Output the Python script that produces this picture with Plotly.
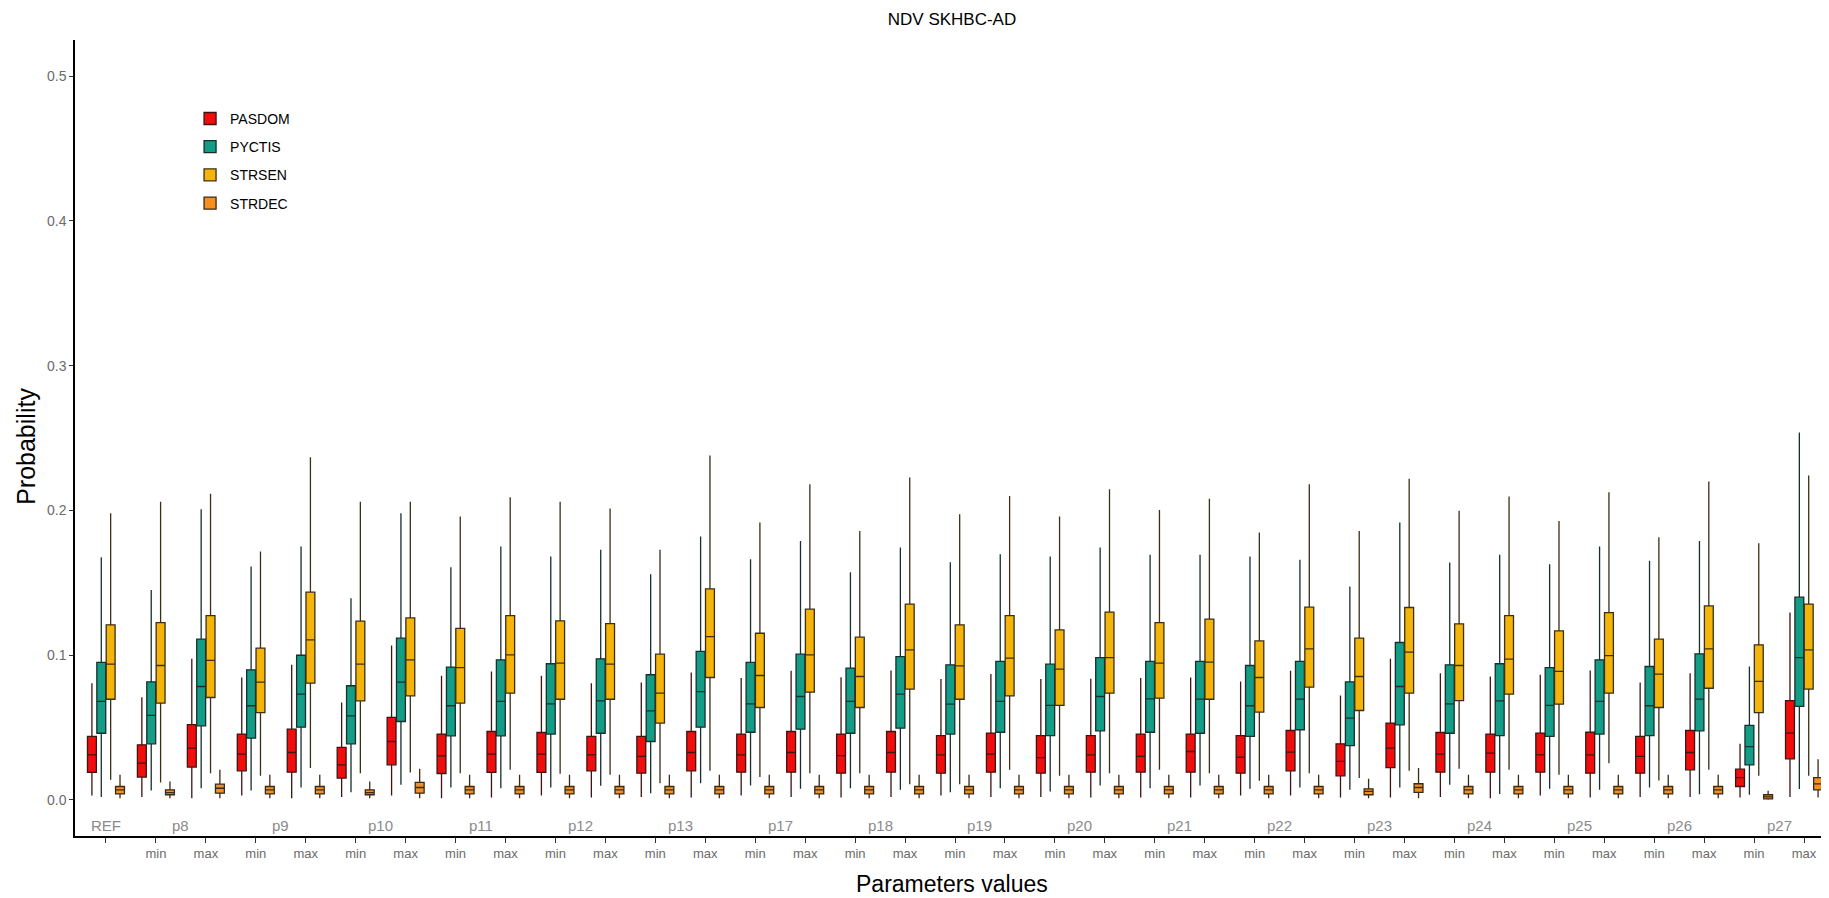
import plotly.graph_objects as go

# x categories: REF + min/max for each parameter
params = ["p8", "p9", "p10", "p11", "p12", "p13", "p17", "p18", "p19", "p20",
          "p21", "p22", "p23", "p24", "p25", "p26", "p27"]
categories = ["REF"] + [f"{p} {lvl}" for p in params for lvl in ("min", "max")]
tick_labels = [""] + ["min", "max"] * len(params)

# PASDOM
pasdom_low = [.003, .002, .001, .003, .001, .002, .003, .001, .0016, .003, .0016, .002, .0016, .003, .002, .0016, .002, .003,
              .002, .002, .0016, .0016, .0016, .003, .003, .0016, .0016, .002, .001, .003, .0016, .002, .002, .0016, .002]
pasdom_q1 = [.019, .0157, .0226, .020, .0191, .015, .0242, .0182, .0189, .0189, .020, .0184, .020, .0191, .0191, .0184, .0191, .0184,
             .0191, .0184, .0191, .0191, .0191, .0184, .020, .0166, .0223, .0191, .0191, .0191, .0184, .0184, .0207, .0092, .0283]
pasdom_med = [.0311, .0253, .0357, .0316, .0327, .0242, .0403, .0304, .0316, .0316, .0311, .030, .0327, .0311, .0327, .0306, .0327, .0311,
              .0316, .0292, .0311, .030, .0334, .0295, .0329, .0265, .0357, .0316, .0322, .0311, .0311, .030, .0327, .0154, .0461]
pasdom_q3 = [.0438, .038, .052, .0454, .0488, .0362, .0569, .0454, .0472, .0465, .0438, .0438, .0472, .0454, .0472, .0454, .0472, .0444,
             .0461, .0444, .0444, .0454, .0454, .0444, .0479, .0387, .053, .0465, .0454, .0461, .0467, .0438, .0479, .0212, .0686]
pasdom_high = [.0806, .0709, .0974, .0845, .0933, .0672, .1066, .0857, .0887, .0857, .0806, .0811, .088, .0841, .0891, .0847, .0894, .0834,
               .087, .0834, .0836, .0841, .0845, .0818, .0891, .0721, .0974, .0875, .0852, .0864, .0894, .0811, .0875, .0387, .1294]

# PYCTIS
pyctis_low = [.002, .0064, .008, .0064, .0085, .0053, .0104, .0085, .008, .0085, .0097, .0046, .0115, .0099, .0076, .008, .0069, .0053,
              .008, .0058, .0099, .008, .0099, .0076, .0085, .0069, .0085, .0104, .0041, .0076, .0069, .0085, .0039, .0035, .0074]
pyctis_q1 = [.046, .0387, .0511, .0426, .0502, .0387, .0541, .0442, .0442, .0454, .046, .0403, .0502, .0467, .0488, .046, .0495, .0454,
             .0467, .0444, .0477, .0467, .046, .0438, .0484, .0375, .0518, .046, .0444, .0438, .0454, .0444, .0477, .0242, .0645]
pyctis_med = [.068, .0583, .0783, .065, .073, .058, .0813, .065, .068, .0663, .0684, .0615, .0748, .0663, .0714, .068, .073, .0661,
              .068, .0652, .0714, .0698, .0696, .065, .0696, .0564, .0783, .0663, .0684, .0652, .068, .065, .0696, .0368, .0983]
pyctis_q3 = [.0949, .0815, .111, .0898, .0999, .0788, .1117, .0917, .0967, .094, .0974, .0864, .1025, .0949, .1006, .091, .099, .0933,
             .0956, .0937, .0983, .0956, .0956, .0928, .0956, .0815, .1087, .0933, .094, .0914, .0967, .0921, .1009, .0514, .14]
pyctis_high = [.1676, .145, .2008, .1612, .175, .1393, .198, .1607, .175, .1681, .1727, .1559, .1819, .1663, .1789, .1573, .1743, .1642,
               .1697, .1681, .1743, .1693, .1693, .1681, .1658, .1474, .1916, .164, .1693, .1628, .175, .1651, .1789, .0921, .2538]

# STRSEN
strsen_low = [.0138, .012, .0184, .0166, .0219, .0184, .0189, .0184, .0207, .018, .0173, .0115, .02, .0157, .0184, .0184, .0108, .0108,
              .0207, .0166, .0184, .0207, .0184, .0131, .0184, .015, .02, .0214, .0207, .0173, .0253, .0134, .0207, .0166, .0166]
strsen_q1 = [.0695, .0668, .0707, .0603, .0806, .0684, .0718, .0668, .0737, .0695, .0695, .053, .0845, .0638, .0744, .0638, .0765, .0695,
             .0718, .0652, .0737, .0702, .0695, .0606, .0778, .0617, .0737, .0686, .073, .0661, .0737, .0638, .0771, .0603, .0765]
strsen_med = [.0937, .0928, .0963, .0813, .1105, .0937, .0967, .0914, .1002, .0944, .0937, .0737, .1128, .0859, .1002, .0852, .1036, .0926,
              .0979, .0903, .0983, .0944, .0951, .0845, .1043, .0852, .102, .0928, .0972, .0887, .0997, .0868, .1043, .0818, .1036]
strsen_q3 = [.1209, .1225, .1273, .1048, .1435, .1234, .1257, .1184, .1273, .1237, .1218, .1006, .1458, .1151, .1317, .1124, .1352, .1209,
             .1273, .1174, .1297, .1225, .1248, .1098, .1331, .1117, .1329, .1216, .1273, .1168, .1294, .111, .134, .1071, .1352]
strsen_high = [.198, .2059, .2114, .1716, .2367, .2059, .2059, .1957, .2091, .2059, .2013, .1727, .2379, .1916, .2181, .1858, .2227, .1974,
               .21, .1957, .2146, .2003, .208, .1847, .2181, .1858, .2218, .1997, .2096, .1927, .2126, .1815, .2199, .1773, .2241]

# STRDEC
strdec_low = [.001] * 33 + [0.0, .0016]
strdec_q1 = [.0041, .0035, .0046, .0041, .0041, .0035, .0046, .0041, .0041, .0041, .0041, .0041, .0041, .0041, .0041, .0041, .0041, .0041,
             .0041, .0041, .0041, .0041, .0041, .0041, .0041, .0035, .0051, .0041, .0041, .0041, .0041, .0041, .0041, .0007, .0069]
strdec_med = [.0069, .005, .008, .0069, .0069, .005, .0085, .0069, .0069, .0069, .0069, .0069, .0069, .0069, .0069, .0069, .0069, .0069,
              .0069, .0069, .0069, .0069, .0069, .0069, .0069, .0058, .0085, .0069, .0069, .0069, .0069, .0069, .0069, .002, .011]
strdec_q3 = [.0092, .0069, .0108, .0092, .0092, .0069, .012, .0092, .0092, .0092, .0092, .0092, .0092, .0092, .0092, .0092, .0092, .0092,
             .0092, .0092, .0092, .0092, .0092, .0092, .0092, .0076, .0111, .0092, .0092, .0092, .0092, .0092, .0092, .0035, .0154]
strdec_high = [.0173, .0127, .0207, .0173, .0173, .0127, .0214, .0173, .0173, .0173, .0173, .0173, .0173, .0173, .0173, .0173, .0173, .0173,
               .0173, .0173, .0173, .0173, .0173, .0173, .0173, .0145, .0219, .0173, .0173, .0173, .0173, .0173, .0173, .0062, .0281]

series = [
    ("PASDOM", "#F20D0D", "#3e1414", pasdom_low, pasdom_q1, pasdom_med, pasdom_q3, pasdom_high),
    ("PYCTIS", "#139C86", "#17302b", pyctis_low, pyctis_q1, pyctis_med, pyctis_q3, pyctis_high),
    ("STRSEN", "#F4B40A", "#3a3018", strsen_low, strsen_q1, strsen_med, strsen_q3, strsen_high),
    ("STRDEC", "#F58F1E", "#3a2a18", strdec_low, strdec_q1, strdec_med, strdec_q3, strdec_high),
]

fig = go.Figure()
for name, fill, edge, low, q1, med, q3, high in series:
    fig.add_trace(go.Box(
        name=name, x=categories, lowerfence=low, q1=q1, median=med, q3=q3, upperfence=high,
        fillcolor=fill, line=dict(color=edge, width=1.3), whiskerwidth=0,
        boxpoints=False, legendgroup=name,
    ))

# group labels inside the panel
annotations = [dict(x=0, y=-0.018, xref="x", yref="y", text="REF", showarrow=False,
                    font=dict(size=15, color="#8a8a8a"))]
for i, p in enumerate(params):
    annotations.append(dict(x=1.5 + 2 * i, y=-0.018, xref="x", yref="y", text=p, showarrow=False,
                            font=dict(size=15, color="#8a8a8a")))
annotations.append(dict(x=-0.028, y=0.49, xref="paper", yref="paper", xanchor="center", text="Probability",
                        textangle=-90, showarrow=False, font=dict(size=25, color="black")))
annotations.append(dict(x=0.5, y=-0.0603, xref="paper", yref="paper", text="Parameters values", yanchor="middle",
                        showarrow=False, font=dict(size=23, color="black")))

# the page body adds an 8px offset, so margins are shifted to compensate
fig.update_layout(
    width=1829, height=898,
    template="plotly_white",
    plot_bgcolor="white", paper_bgcolor="white",
    font=dict(family="Liberation Sans, Arial, sans-serif"),
    title=dict(text="NDV SKHBC-AD", x=0.5, xref="paper", y=0.988, yref="container", yanchor="middle",
               font=dict(size=17, color="black")),
    margin=dict(l=67, r=8, t=32, b=70),
    boxmode="group", boxgap=0.25, boxgroupgap=0.05,
    showlegend=True,
    legend=dict(x=0.0656, y=0.921, xanchor="left", yanchor="top", tracegroupgap=7,
                bgcolor="rgba(0,0,0,0)", font=dict(size=14, color="black")),
    annotations=annotations,
)

fig.update_xaxes(
    type="category", range=[-0.62, 34.5], tickvals=categories, ticktext=tick_labels,
    automargin=False, ticklabeloverflow="allow",
    showgrid=False, zeroline=False, showline=True, linecolor="black", linewidth=1.5,
    ticks="outside", ticklen=5, tickcolor="#333333", tickfont=dict(size=13, color="#6b6b6b"),
)
fig.update_yaxes(
    range=[-0.025, 0.525], tickvals=[0, 0.1, 0.2, 0.3, 0.4, 0.5], tickformat=".1f", automargin=False,
    showgrid=False, zeroline=False, showline=True, linecolor="black", linewidth=1.5,
    ticks="outside", ticklen=4, tickcolor="#333333", tickfont=dict(size=14, color="#6b6b6b"),
)

fig.write_html("out.html")
